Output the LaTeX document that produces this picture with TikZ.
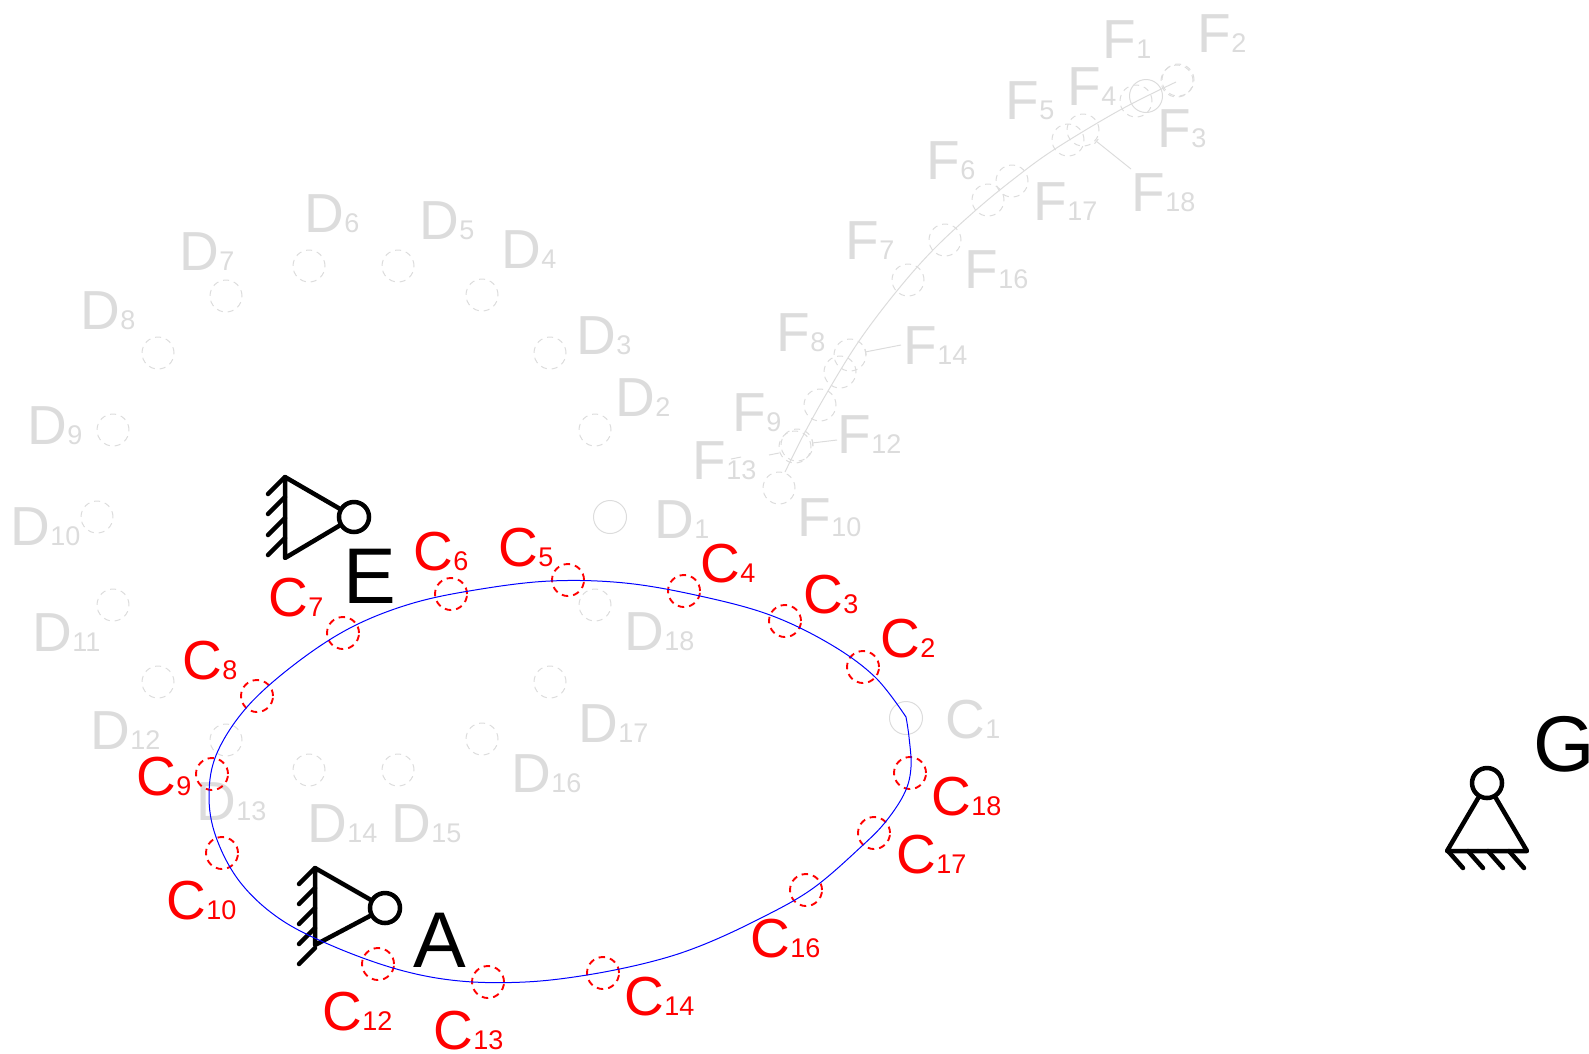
\documentclass[tikz,border=0pt]{standalone}
\usepackage{fontspec}
\setmainfont{Liberation Sans}
\usetikzlibrary{arrows.meta}

\definecolor{faded}{HTML}{DCDCDC}
\newcommand{\subidx}[1]{{\fontsize{27}{27}\selectfont #1}}

\tikzset{
	marklabel/.style={anchor=base west,inner sep=0pt,xshift=-2.5pt,font=\fontsize{55}{55}\selectfont},
	pointname/.style={anchor=base west,inner sep=0pt,font=\fontsize{79}{79}\selectfont},
	redpos/.style={circle,draw=red,dash pattern=on 6.5pt off 5pt,line width=1.9pt,minimum size=32pt,inner sep=0pt},
	fadedpos/.style={circle,draw=faded,dash pattern=on 6pt off 5pt,line width=1pt,minimum size=32pt,inner sep=0pt},
	fadedring/.style={circle,draw=faded,line width=1pt,minimum size=33pt,inner sep=0pt},
	pin/.style={circle,draw=black,line width=4.5pt,minimum size=30pt,inner sep=0pt},
	support/.style={line width=4.5pt,line cap=round,line join=round},
	leader/.style={draw=faded,line width=1pt,{Bar[width=6pt,length=1pt]}-}
}

\begin{document}
\begin{tikzpicture}[x=1pt,y=-1pt]
		\useasboundingbox (0,0) rectangle (1589,1053);
		% Faded positions D
		\node[fadedring] (d1) at (610,517) {};
		\foreach \n/\x/\y in {2/595/430,3/550/353,4/482/295,5/398/266,6/309/266,7/226/296,8/158/353,9/113/430,10/97/517,11/113/605,12/158/682,13/226/740,14/309/770,15/398/770,16/482/739,17/550/682,18/595/605}
			\node[fadedpos] (d\n) at (\x,\y) {};
		\foreach \n/\x/\y in {1/657/538,2/618/416,3/579/354,4/504/268,5/422/239,6/307/232,7/182/270,8/83/329,9/30/444,10/13/545,11/35/651,12/93/749,13/199/820,14/310/842,15/394/842,16/514/792,17/581/742,18/627/650}
			\node[marklabel,text=faded] (labd\n) at (\x,\y) {D\subidx{\n}};
		% Faded positions F
		\node[fadedring] (f1) at (1146,96) {};
		\foreach \n/\x/\y in {2/1178/80,3/1136/101,4/1083/130,5/1068/140,6/1012/181,7/988/200,8/945/240,9/908/280,10/850/355,11/840/372,12/820/405,13/795/447,14/797/445,15/779/488,16/1177/81}
			\node[fadedpos] (f\n) at (\x,\y) {};
		\foreach \n/\x/\y in {1/1105/58,2/1200/52,3/1160/147,4/1070/105,5/1008/119,6/929/179,7/848/259,8/779/351,9/735/431,10/800/536,12/840/453,13/695/479,14/906/364,16/967/288,17/1036/220,18/1134/211}
			\node[marklabel,text=faded] (labf\n) at (\x,\y) {F\subidx{\n}};
		\draw[faded,line width=1pt] plot[smooth,tension=0.6] coordinates {(785,472) (804,434) (828,391) (859,341) (896,292) (933,250) (976,210) (1015,178) (1055,149) (1120,110) (1176,82)};
		% Leaders
		\coordinate (tipf18) at (1096,141);
		\coordinate (endf18) at (1131,169);
		\coordinate (tipf14) at (865,352);
		\coordinate (endf14) at (901,345);
		\coordinate (tipf12) at (812,443);
		\coordinate (endf12) at (837,440);
		\coordinate (inf13a) at (731,459);
		\coordinate (outf13a) at (741,457);
		\coordinate (inf13b) at (769,455);
		\coordinate (outf13b) at (779,453);
		\draw[leader] (tipf18) -- (endf18);
		\draw[leader] (tipf14) -- (endf14);
		\draw[leader] (tipf12) -- (endf12);
		\draw[faded,line width=1pt] (inf13a) -- (outf13a);
		\draw[faded,line width=1pt] (inf13b) -- (outf13b);
		% Positions C
		\node[fadedring] (c1) at (906,718) {};
		\node[marklabel,text=faded] (labc1) at (948,738) {C\subidx{1}};
		\foreach \n/\x/\y in {2/863/667,3/785/621,4/684/591,5/568/580,6/451/594,7/343/633,8/257/696,9/212/774,10/222/853,12/378/964,13/488/982,14/603/973,16/806/890,17/874/833,18/910/773}
			\node[redpos] (c\n) at (\x,\y) {};
		\foreach \n/\x/\y in {2/883/657,3/806/613,4/703/582,5/501/566,6/416/570,7/271/616,8/185/679,9/139/795,10/169/919,12/325/1030,13/436/1049,14/627/1015,16/753/957,17/899/873,18/934/815}
			\node[marklabel,text=red] (labc\n) at (\x,\y) {C\subidx{\n}};
		% Support E
		\coordinate (topE) at (285,477);
		\coordinate (botE) at (285,558);
		\node[pin] (pinE) at (354,517) {};
		\draw[support] (pinE) -- (topE) -- (botE) -- (pinE);
		\foreach \y in {477,497,518,538}
			\draw[support] (285,\y) -- ++(-17,17);
		\node[pointname] (labE) at (343,603) {E};
		% Support A
		\coordinate (topA) at (315,868);
		\coordinate (botA) at (315,945);
		\node[pin] (pinA) at (385,908) {};
		\draw[support] (pinA) -- (topA) -- (botA) -- (pinA);
		\foreach \y in {868,888,908,928,948}
			\draw[support] (315,\y) -- ++(-16,16);
		\node[pointname] (labA) at (413,967) {A};
		% Support G
		\coordinate (leftG) at (1447,851);
		\coordinate (rightG) at (1527,851);
		\node[pin] (pinG) at (1487,783) {};
		\draw[support] (pinG) -- (leftG) -- (rightG) -- (pinG);
		\foreach \x in {1448,1468,1488,1509}
			\draw[support] (\x,851) -- ++(15,17);
		\node[pointname] (labG) at (1533,771) {G};
		% Coupler curve
		\draw[blue,line width=1pt] plot[smooth,tension=0.6] coordinates {(906,717) (875,677) (830,644) (770,615) (700,596) (625,583) (550,581) (475,590) (410,604) (350,628) (295,664) (247,707) (217,753) (209,795) (216,837) (240,882) (280,919) (335,947) (400,970) (460,981) (525,982) (587,975) (650,962) (700,946) (757,920) (812,889) (863,845) (887,820) (905,792) (911,767) (909,737) (906,717)};
	\end{tikzpicture}
\end{document}
